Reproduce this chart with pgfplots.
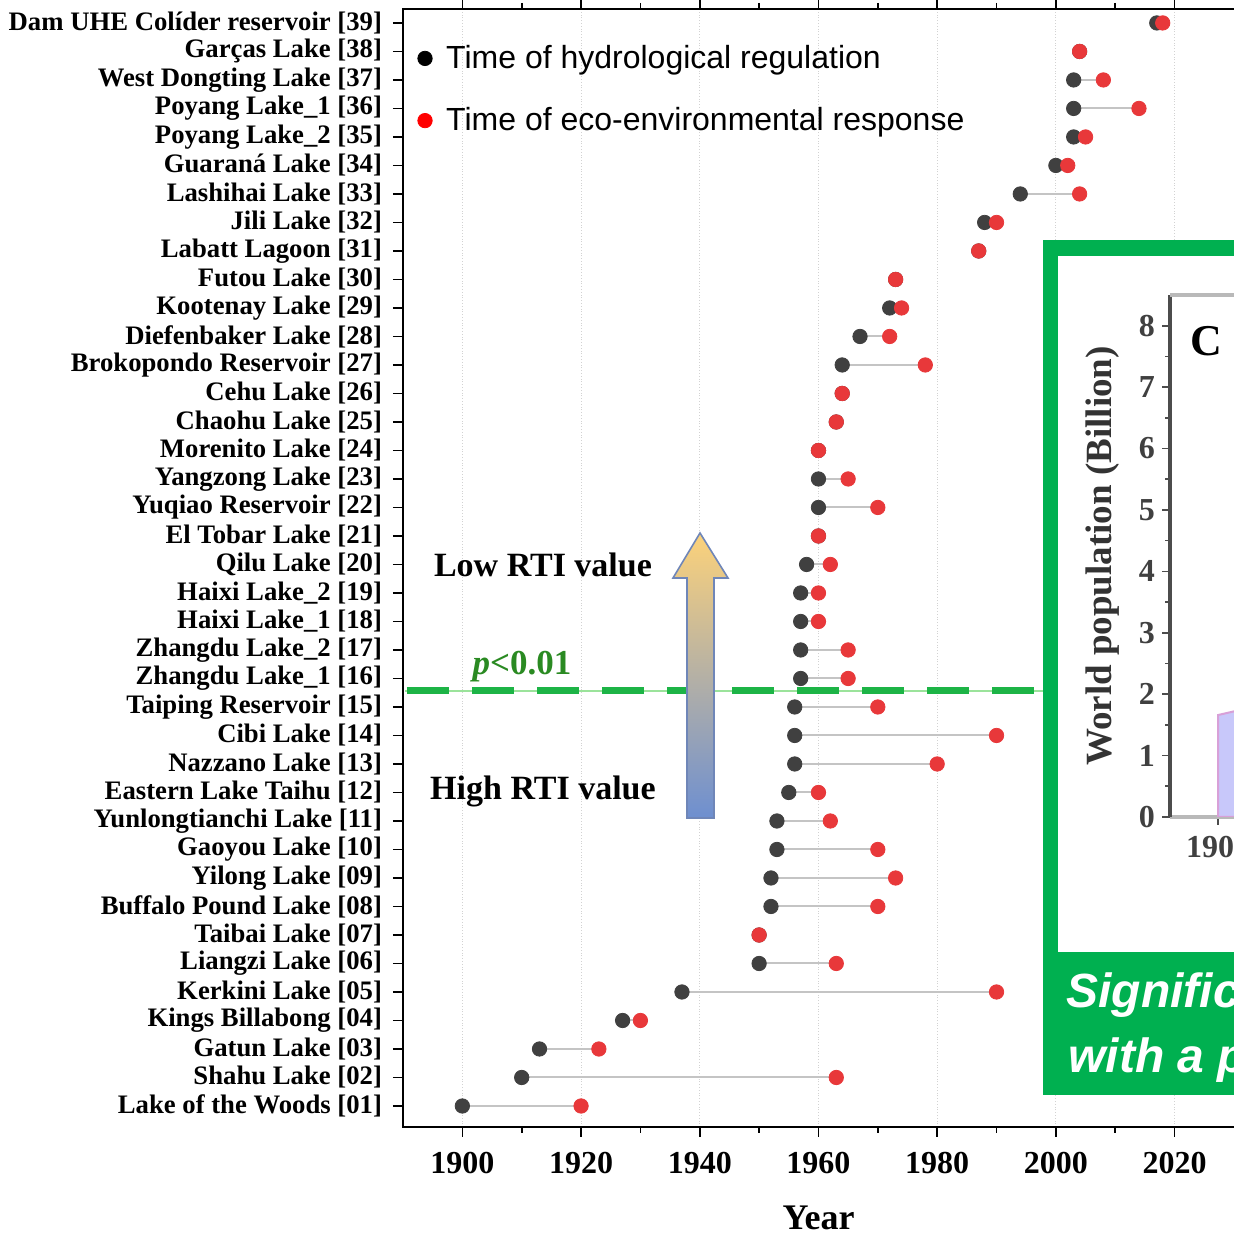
\documentclass[border=0pt]{standalone}
\usepackage{fontspec}
\setmainfont{Liberation Serif}
\newfontfamily\arial{Liberation Sans}
\usepackage{pgfplots}
\pgfplotsset{compat=1.18}
\usepackage{pgfplotstable}
\usetikzlibrary{calc}

\definecolor{dotgray}{HTML}{404040}
\definecolor{dotred}{HTML}{E8383A}
\definecolor{linkgray}{HTML}{C4C4C4}
\definecolor{boxgreen}{HTML}{00B050}
\definecolor{dashgreen}{HTML}{1DB446}
\definecolor{thingreen}{HTML}{9BE39B}
\definecolor{pgreen}{HTML}{2A8A22}
\definecolor{arrowtop}{HTML}{FCD27A}
\definecolor{arrowmid}{HTML}{D9C7BE}
\definecolor{arrowbot}{HTML}{6E8FD0}
\definecolor{arrowedge}{HTML}{6F86B8}
\definecolor{lav}{HTML}{C8C8FA}
\definecolor{lavedge}{HTML}{D8A0D8}

% row = position from bottom, reg = hydrological regulation, resp = eco-environmental response
\pgfplotstableread{
row reg resp
1 1900 1920
2 1910 1963
3 1913 1923
4 1927 1930
5 1937 1990
6 1950 1963
7 1950 1950
8 1952 1970
9 1952 1973
10 1953 1970
11 1953 1962
12 1955 1960
13 1956 1980
14 1956 1990
15 1956 1970
16 1957 1965
17 1957 1965
18 1957 1960
19 1957 1960
20 1958 1962
21 1960 1960
22 1960 1970
23 1960 1965
24 1960 1960
25 1963 1963
26 1964 1964
27 1964 1978
28 1967 1972
29 1972 1974
30 1973 1973
31 1987 1987
32 1988 1990
33 1994 2004
34 2000 2002
35 2003 2005
36 2003 2014
37 2003 2008
38 2004 2004
39 2017 2018
}\lakes

\begin{document}
\begin{tikzpicture}
\begin{axis}[
    name=main,
    scale only axis,
    width=421.4pt, height=559pt,
    xmin=1890, xmax=2032,
    ymin=0.263, ymax=39.49,
    xtick={1900,1920,...,2020},
    minor x tick num=1,
    ytick={1,...,39},
    yticklabels={{Lake of the Woods [01]},{Shahu Lake [02]},{Gatun Lake [03]},{Kings Billabong [04]},{Kerkini Lake [05]},{Liangzi Lake [06]},{Taibai Lake [07]},{Buffalo Pound Lake [08]},{Yilong Lake [09]},{Gaoyou Lake [10]},{Yunlongtianchi Lake [11]},{Eastern Lake Taihu [12]},{Nazzano Lake [13]},{Cibi Lake [14]},{Taiping Reservoir [15]},{Zhangdu Lake\_1 [16]},{Zhangdu Lake\_2 [17]},{Haixi Lake\_1 [18]},{Haixi Lake\_2 [19]},{Qilu Lake [20]},{El Tobar Lake [21]},{Yuqiao Reservoir [22]},{Yangzong Lake [23]},{Morenito Lake [24]},{Chaohu Lake [25]},{Cehu Lake [26]},{Brokopondo Reservoir [27]},{Diefenbaker Lake [28]},{Kootenay Lake [29]},{Futou Lake [30]},{Labatt Lagoon [31]},{Jili Lake [32]},{Lashihai Lake [33]},{Guaraná Lake [34]},{Poyang Lake\_2 [35]},{Poyang Lake\_1 [36]},{West Dongting Lake [37]},{Garças Lake [38]},{Dam UHE Colíder reservoir [39]}},
    tick align=outside,
    xtick pos=both, ytick pos=left,
    major tick length=5pt, minor tick length=3pt,
    tick style={black, line width=0.8pt},
    axis line style={black, line width=1pt},
    xmajorgrids,
    grid style={densely dotted, gray!35, line width=0.5pt},
    /pgf/number format/1000 sep={},
    /pgf/number format/assume math mode=true,
    xticklabel style={font=\fontsize{16}{16}\selectfont\bfseries, yshift=-4pt},
    yticklabel style={font=\fontsize{13.35}{13.35}\selectfont\bfseries, xshift=-2pt},
    xlabel={Year},
    xlabel style={font=\fontsize{18}{18}\selectfont\bfseries, at={(axis description cs:0.493,0)}, anchor=center, yshift=-45.5pt},
    legend style={draw=none, fill=none, at={(0.01,0.975)}, anchor=north west,
        font=\arial\fontsize{16}{17}\selectfont, row sep=14pt, /tikz/column sep=5pt},
    legend cell align=left,
]
\addplot[only marks, mark=none, forget plot,
    error bars/.cd, x dir=plus, x explicit, error mark=none,
    error bar style={draw=linkgray, line width=1pt}]
    table[x=reg, y=row, x error expr=\thisrow{resp}-\thisrow{reg}] {\lakes};
\addplot[only marks, mark=*, mark size=3.6pt, color=dotgray,
    legend image post style={black}]
    table[x=reg, y=row] {\lakes};
\addplot[only marks, mark=*, mark size=3.6pt, color=dotred,
    legend image post style={red}]
    table[x=resp, y=row] {\lakes};
\legend{Time of hydrological regulation, Time of eco-environmental response}
\end{axis}

% annotations, in pixel units of the reference (origin top left)
\begin{scope}[shift={($(main.north west)+(-201.5pt,4.5pt)$)}, x=0.5pt, y=-0.5pt]
  \draw[thingreen, line width=0.8pt] (405,691) -- (1043,691);
  \draw[dashgreen, line width=3.5pt, dash pattern=on 21pt off 11.5pt] (407,691) -- (1043,691);
  \node[text=pgreen, font=\fontsize{17.5}{17.5}\selectfont\bfseries] at (522,667) {\textit{p}<0.01};
  \path[draw=arrowedge, line width=0.8pt, top color=arrowtop, middle color=arrowmid, bottom color=arrowbot]
    (687,818) -- (687,578) -- (673,578) -- (700,533) -- (728,578) -- (714,578) -- (714,818) -- cycle;
  \node[font=\fontsize{17}{17}\selectfont\bfseries] at (543,565) {Low RTI value};
  \node[font=\fontsize{17}{17}\selectfont\bfseries] at (543,791) {High RTI value};
  \fill[boxgreen] (1043,240) rectangle (1320,1095);
  \fill[white] (1058,256) rectangle (1320,952);
  \node[anchor=base west, text=white, inner sep=0pt, font=\arial\bfseries\itshape\fontsize{24}{24}\selectfont] at (1066,1008) {Significant};
  \node[anchor=base west, text=white, inner sep=0pt, font=\arial\bfseries\itshape\fontsize{24}{24}\selectfont] at (1068,1073) {with a population};
\end{scope}

\begin{axis}[
    name=inset,
    at={($(main.north west)+(383.5pt,-404pt)$)}, anchor=south west,
    scale only axis,
    width=168pt, height=261pt,
    xmin=1880, xmax=2020, ymin=0, ymax=8.5,
    ytick={0,...,8}, minor y tick num=1,
    xtick={1900,1950,2000},
    axis x line*=bottom, axis y line*=left,
    tick align=outside,
    major tick length=4pt, minor tick length=2.5pt,
    x axis line style={draw=gray!55, line width=2pt, -},
    y axis line style={draw=black!70, line width=2pt, -},
    tick style={black!70, line width=0.8pt},
    /pgf/number format/1000 sep={},
    /pgf/number format/assume math mode=true,
    ticklabel style={font=\fontsize{16}{16}\selectfont\bfseries, text=black!75},
    xticklabel style={yshift=-2pt},
    ylabel={World population (Billion)},
    ylabel shift=3pt,
    ylabel style={font=\fontsize{18.5}{18.5}\selectfont\bfseries, text=black!80},
]
\addplot[fill=lav, draw=lavedge, line width=1pt] coordinates {(1900,0) (1900,1.66) (1910,1.75) (1910,0)} \closedcycle;
\node[font=\fontsize{22}{22}\selectfont\bfseries] at (axis cs:1895,7.75) {C};
\end{axis}

\begin{scope}[shift={($(main.north west)+(-201.5pt,4.5pt)$)}, x=0.5pt, y=-0.5pt]
  \draw[gray!55, line width=2pt] (1170,295) -- (1320,295);
\end{scope}

\pgfresetboundingbox
\path[use as bounding box] ($(main.north west)+(-201.5pt,4.5pt)$) rectangle ($(main.north west)+(415pt,-613pt)$);
\end{tikzpicture}
\end{document}
